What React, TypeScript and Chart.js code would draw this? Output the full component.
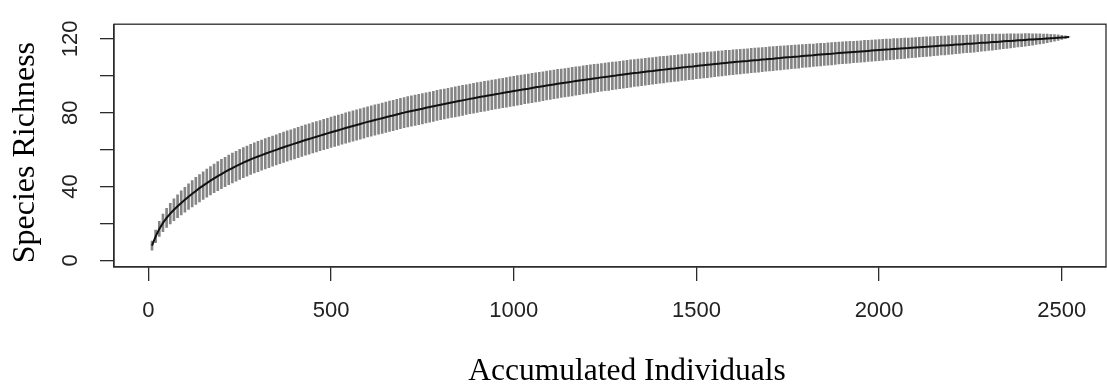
import React, { useEffect, useRef } from 'react';
import { Chart, registerables } from 'chart.js';

Chart.register(...registerables);

// Accumulated individuals (sample size)
const X_INDIVIDUALS = [
  10, 20, 30, 40, 50, 60, 70, 80, 90, 100,
  110, 120, 130, 140, 150, 160, 170, 180, 190, 200,
  210, 220, 230, 240, 250, 260, 270, 280, 290, 300,
  310, 320, 330, 340, 350, 360, 370, 380, 390, 400,
  410, 420, 430, 440, 450, 460, 470, 480, 490, 500,
  510, 520, 530, 540, 550, 560, 570, 580, 590, 600,
  610, 620, 630, 640, 650, 660, 670, 680, 690, 700,
  710, 720, 730, 740, 750, 760, 770, 780, 790, 800,
  810, 820, 830, 840, 850, 860, 870, 880, 890, 900,
  910, 920, 930, 940, 950, 960, 970, 980, 990, 1000,
  1010, 1020, 1030, 1040, 1050, 1060, 1070, 1080, 1090, 1100,
  1110, 1120, 1130, 1140, 1150, 1160, 1170, 1180, 1190, 1200,
  1210, 1220, 1230, 1240, 1250, 1260, 1270, 1280, 1290, 1300,
  1310, 1320, 1330, 1340, 1350, 1360, 1370, 1380, 1390, 1400,
  1410, 1420, 1430, 1440, 1450, 1460, 1470, 1480, 1490, 1500,
  1510, 1520, 1530, 1540, 1550, 1560, 1570, 1580, 1590, 1600,
  1610, 1620, 1630, 1640, 1650, 1660, 1670, 1680, 1690, 1700,
  1710, 1720, 1730, 1740, 1750, 1760, 1770, 1780, 1790, 1800,
  1810, 1820, 1830, 1840, 1850, 1860, 1870, 1880, 1890, 1900,
  1910, 1920, 1930, 1940, 1950, 1960, 1970, 1980, 1990, 2000,
  2010, 2020, 2030, 2040, 2050, 2060, 2070, 2080, 2090, 2100,
  2110, 2120, 2130, 2140, 2150, 2160, 2170, 2180, 2190, 2200,
  2210, 2220, 2230, 2240, 2250, 2260, 2270, 2280, 2290, 2300,
  2310, 2320, 2330, 2340, 2350, 2360, 2370, 2380, 2390, 2400,
  2410, 2420, 2430, 2440, 2450, 2460, 2470, 2480, 2490, 2500,
  2510, 2520,
];

// Mean species richness (rarefaction curve)
const RICHNESS_MEAN = [
  8.0, 13.0, 17.0, 20.3, 23.0, 25.3, 27.4, 29.3, 31.1, 32.8,
  34.5, 36.1, 37.6, 39.1, 40.5, 41.85, 43.15, 44.4, 45.6, 46.75,
  47.87, 48.95, 50.0, 51.0, 52.0, 52.9, 53.8, 54.7, 55.5, 56.25,
  57.0, 57.75, 58.45, 59.15, 59.85, 60.55, 61.25, 61.9, 62.55, 63.2,
  63.85, 64.5, 65.15, 65.75, 66.35, 66.95, 67.55, 68.15, 68.75, 69.35,
  69.93, 70.5, 71.07, 71.64, 72.2, 72.76, 73.32, 73.88, 74.44, 75.0,
  75.5, 76.0, 76.5, 77.0, 77.5, 78.0, 78.5, 79.0, 79.5, 80.0,
  80.45, 80.9, 81.3, 81.75, 82.15, 82.6, 83.05, 83.45, 83.9, 84.3,
  84.7, 85.1, 85.5, 85.85, 86.25, 86.65, 87.05, 87.45, 87.8, 88.2,
  88.55, 88.9, 89.25, 89.6, 89.95, 90.3, 90.65, 91.0, 91.35, 91.7,
  92.05, 92.35, 92.7, 93.0, 93.35, 93.7, 94.0, 94.35, 94.65, 95.0,
  95.3, 95.6, 95.9, 96.2, 96.5, 96.8, 97.1, 97.4, 97.7, 98.0,
  98.25, 98.55, 98.8, 99.1, 99.35, 99.6, 99.9, 100.15, 100.45, 100.7,
  100.95, 101.2, 101.45, 101.65, 101.9, 102.15, 102.4, 102.6, 102.85, 103.1,
  103.3, 103.55, 103.75, 103.95, 104.2, 104.4, 104.65, 104.85, 105.05, 105.3,
  105.5, 105.7, 105.9, 106.1, 106.3, 106.5, 106.7, 106.9, 107.1, 107.3,
  107.5, 107.65, 107.85, 108.0, 108.2, 108.4, 108.55, 108.75, 108.9, 109.1,
  109.25, 109.45, 109.6, 109.8, 109.95, 110.1, 110.3, 110.45, 110.65, 110.8,
  110.95, 111.1, 111.3, 111.45, 111.6, 111.75, 111.9, 112.1, 112.25, 112.4,
  112.55, 112.7, 112.85, 113.0, 113.15, 113.3, 113.45, 113.6, 113.75, 113.9,
  114.05, 114.2, 114.3, 114.45, 114.6, 114.75, 114.9, 115.0, 115.15, 115.3,
  115.45, 115.6, 115.7, 115.85, 116.0, 116.15, 116.3, 116.4, 116.55, 116.7,
  116.85, 116.95, 117.1, 117.25, 117.35, 117.5, 117.65, 117.8, 117.9, 118.05,
  118.2, 118.3, 118.45, 118.6, 118.75, 118.85, 119.0, 119.15, 119.25, 119.4,
  119.55, 119.65, 119.8, 119.95, 120.05, 120.2, 120.35, 120.45, 120.6, 120.75,
  120.85, 121.0,
];

// Half-length of each error bar
const RICHNESS_ERR = [
  2.5, 3.4, 4.1, 4.7, 5.2, 5.6, 5.9, 6.2, 6.5, 6.7,
  6.9, 7.1, 7.3, 7.4, 7.5, 7.6, 7.7, 7.8, 7.85, 7.9,
  7.95, 8.0, 8.05, 8.1, 8.1, 8.15, 8.15, 8.2, 8.2, 8.2,
  8.2, 8.2, 8.2, 8.2, 8.2, 8.2, 8.2, 8.2, 8.2, 8.2,
  8.2, 8.2, 8.2, 8.2, 8.2, 8.2, 8.2, 8.2, 8.2, 8.2,
  8.2, 8.2, 8.2, 8.2, 8.2, 8.2, 8.2, 8.2, 8.2, 8.2,
  8.2, 8.2, 8.2, 8.2, 8.2, 8.2, 8.2, 8.2, 8.2, 8.2,
  8.2, 8.2, 8.2, 8.2, 8.2, 8.15, 8.15, 8.15, 8.15, 8.15,
  8.1, 8.1, 8.1, 8.1, 8.1, 8.1, 8.05, 8.05, 8.05, 8.05,
  8.05, 8.05, 8.0, 8.0, 8.0, 8.0, 8.0, 8.0, 8.0, 8.0,
  8.0, 8.0, 7.9, 7.9, 7.9, 7.9, 7.9, 7.8, 7.8, 7.8,
  7.8, 7.8, 7.7, 7.7, 7.7, 7.7, 7.7, 7.6, 7.6, 7.6,
  7.6, 7.6, 7.5, 7.5, 7.5, 7.5, 7.5, 7.4, 7.4, 7.4,
  7.4, 7.4, 7.3, 7.3, 7.3, 7.3, 7.3, 7.2, 7.2, 7.2,
  7.2, 7.1, 7.1, 7.1, 7.1, 7.0, 7.0, 7.0, 7.0, 6.9,
  6.9, 6.9, 6.9, 6.9, 6.8, 6.8, 6.8, 6.8, 6.7, 6.7,
  6.7, 6.7, 6.6, 6.6, 6.6, 6.6, 6.6, 6.5, 6.5, 6.5,
  6.5, 6.5, 6.4, 6.4, 6.4, 6.3, 6.3, 6.3, 6.2, 6.2,
  6.2, 6.1, 6.1, 6.1, 6.0, 6.0, 6.0, 6.0, 5.9, 5.9,
  5.9, 5.9, 5.8, 5.8, 5.8, 5.8, 5.7, 5.7, 5.7, 5.7,
  5.7, 5.6, 5.6, 5.6, 5.5, 5.5, 5.5, 5.4, 5.4, 5.4,
  5.3, 5.3, 5.3, 5.2, 5.2, 5.2, 5.1, 5.1, 5.0, 5.0,
  4.9, 4.9, 4.8, 4.8, 4.7, 4.7, 4.6, 4.5, 4.5, 4.4,
  4.3, 4.2, 4.1, 4.0, 3.9, 3.8, 3.7, 3.6, 3.5, 3.4,
  3.3, 3.1, 2.9, 2.7, 2.5, 2.3, 2.0, 1.8, 1.5, 1.1,
  0.7, 0.0,
];

const X_TICKS = [0, 500, 1000, 1500, 2000, 2500];
const Y_TICKS = [0, 20, 40, 60, 80, 100, 120];
const Y_TICK_LABELS = [0, 40, 80, 120];
const X_TITLE = 'Accumulated Individuals';
const Y_TITLE = 'Species Richness';

const W = 1107;
const H = 389;
const AXIS_COLOR = '#2b2b2b';
const SANS = '"Liberation Sans", Arial, sans-serif';
const SERIF = '"Liberation Serif", "Times New Roman", serif';

export default function App() {
  const ref = useRef<HTMLCanvasElement>(null);

  useEffect(() => {
    document.body.style.margin = '0';
    const canvas = ref.current;
    if (!canvas) return;

    const errData = X_INDIVIDUALS.map((x, i) => ({
      x,
      y: [RICHNESS_MEAN[i] - RICHNESS_ERR[i], RICHNESS_MEAN[i] + RICHNESS_ERR[i]],
    }));
    const meanData = X_INDIVIDUALS.map((x, i) => ({ x, y: RICHNESS_MEAN[i] }));

    const framePlugin = {
      id: 'rFrameAndTitles',
      afterDraw(chart: any) {
        const { ctx, chartArea: a } = chart;
        ctx.save();
        ctx.strokeStyle = AXIS_COLOR;
        ctx.lineWidth = 1.3;
        ctx.strokeRect(a.left, a.top, a.right - a.left, a.bottom - a.top);
        ctx.fillStyle = '#000';
        ctx.textAlign = 'center';
        ctx.textBaseline = 'alphabetic';
        ctx.font = `31.5px ${SERIF}`;
        ctx.fillText(X_TITLE, (a.left + a.right) / 2 + 17, 380);
        ctx.translate(34, (a.top + a.bottom) / 2 + 7);
        ctx.rotate(-Math.PI / 2);
        ctx.font = `32px ${SERIF}`;
        ctx.fillText(Y_TITLE, 0, 0);
        ctx.restore();
      },
    };

    const chart = new Chart(canvas, {
      type: 'bar',
      data: {
        datasets: [
          {
            type: 'bar',
            label: 'range',
            data: errData as any,
            backgroundColor: '#858585',
            borderWidth: 0,
            barThickness: 2,
            grouped: false,
            order: 2,
          } as any,
          {
            type: 'line',
            label: 'mean',
            data: meanData as any,
            borderColor: '#111111',
            borderWidth: 2,
            pointRadius: 0,
            tension: 0,
            fill: false,
            order: 1,
          } as any,
        ],
      },
      options: {
        animation: false,
        responsive: false,
        maintainAspectRatio: false,
        layout: { padding: { left: 0, top: 10, right: 1, bottom: 0 } },
        plugins: {
          legend: { display: false },
          tooltip: { enabled: false },
        },
        scales: {
          x: {
            type: 'linear',
            position: 'bottom',
            min: -94,
            max: 2621,
            offset: false,
            afterBuildTicks: (scale: any) => {
              scale.ticks = X_TICKS.map((v) => ({ value: v }));
            },
            afterFit: (scale: any) => {
              scale.height = 122;
            },
            grid: {
              display: true,
              offset: false,
              drawOnChartArea: false,
              drawTicks: true,
              tickLength: 14,
              color: AXIS_COLOR,
              lineWidth: 1.3,
            },
            border: { display: true, color: AXIS_COLOR, width: 1.3 },
            ticks: {
              autoSkip: false,
              maxRotation: 0,
              minRotation: 0,
              padding: 17,
              color: '#222',
              font: { family: SANS, size: 22 },
              callback: (v: any) => String(v),
            },
          },
          y: {
            type: 'linear',
            position: 'left',
            min: -3.6,
            max: 127.9,
            afterBuildTicks: (scale: any) => {
              scale.ticks = Y_TICKS.map((v) => ({ value: v }));
            },
            afterFit: (scale: any) => {
              scale.width = 114;
            },
            grid: {
              display: true,
              drawOnChartArea: false,
              drawTicks: true,
              tickLength: 14,
              color: AXIS_COLOR,
              lineWidth: 1.3,
            },
            border: { display: true, color: AXIS_COLOR, width: 1.3 },
            ticks: {
              autoSkip: false,
              minRotation: 90,
              maxRotation: 90,
              crossAlign: 'center',
              padding: 11,
              color: '#222',
              font: { family: SANS, size: 22 },
              callback: (v: any) => (Y_TICK_LABELS.includes(Number(v)) ? String(v) : ''),
            },
          },
        },
      },
      plugins: [framePlugin],
    });

    return () => {
      chart.destroy();
    };
  }, []);

  return (
    <div style={{ position: 'absolute', left: 0, top: 0, width: W, height: H, background: '#fff' }}>
      <canvas ref={ref} width={W} height={H} style={{ width: W, height: H, display: 'block' }} />
    </div>
  );
}
